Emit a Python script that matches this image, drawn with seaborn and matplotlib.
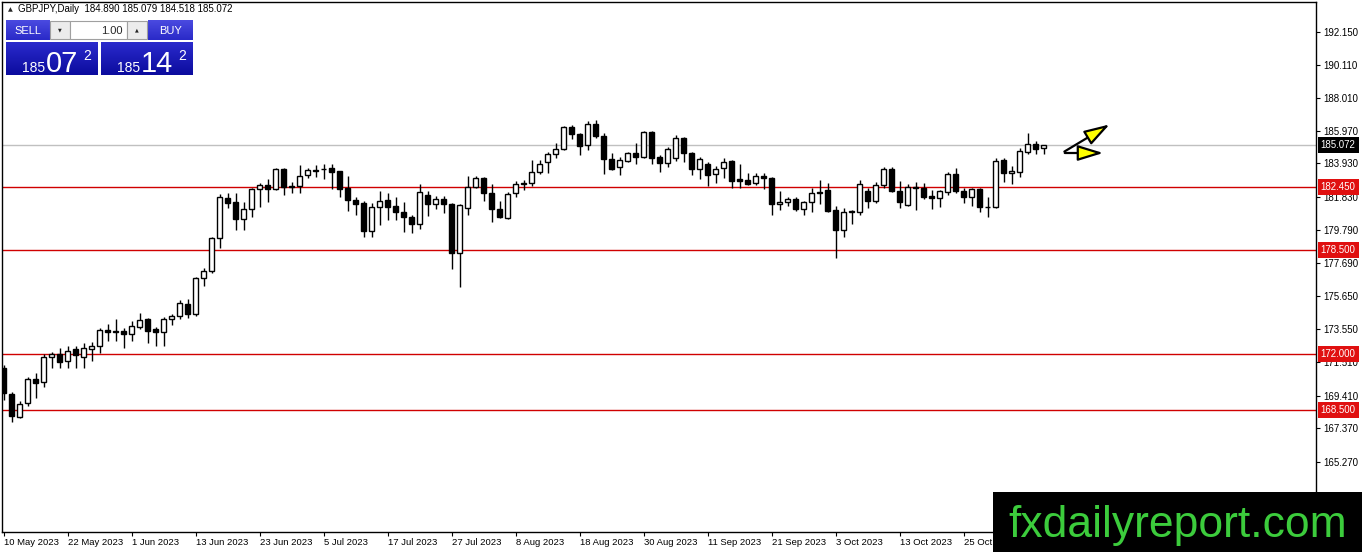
import numpy as np
import pandas as pd
import matplotlib
matplotlib.use("Agg")
import matplotlib.pyplot as plt
import seaborn as sns
from matplotlib.patches import Rectangle, FancyArrowPatch
from matplotlib.transforms import blended_transform_factory

# ---------------- data ----------------
symbol = "GBPJPY,Daily"
opens = [171.14, 169.51, 168.07, 168.94, 170.45, 170.26, 171.82, 172.01, 171.57, 172.32,
         171.82, 172.32, 172.51, 173.51, 173.39, 173.45, 173.26, 173.70, 174.20, 173.57,
         173.39, 174.20, 174.39, 175.14, 174.51, 176.76, 177.20, 179.27, 181.77, 181.52,
         180.46, 181.08, 182.33, 182.58, 182.33, 183.58, 182.52, 182.52, 183.21, 183.46,
         183.58, 183.65, 183.46, 182.40, 181.64, 181.46, 179.70, 181.20, 181.64, 181.27,
         180.89, 180.58, 180.14, 181.96, 181.39, 181.71, 181.39, 178.33, 181.14, 182.46,
         183.02, 182.08, 181.08, 180.52, 182.08, 182.65, 182.71, 183.40, 184.02, 184.52,
         184.83, 186.21, 185.77, 185.08, 186.40, 185.65, 184.21, 183.71, 184.08, 184.58,
         184.33, 185.90, 184.33, 183.96, 184.27, 185.52, 184.58, 183.58, 183.90, 183.27,
         183.65, 184.08, 182.96, 182.90, 182.71, 183.15, 183.02, 181.39, 181.52, 181.71,
         181.08, 181.52, 182.14, 182.27, 181.02, 179.77, 180.89, 180.89, 182.21, 181.58,
         182.58, 183.58, 182.21, 181.33, 182.46, 182.40, 181.89, 181.77, 182.14, 183.27,
         182.21, 181.83, 182.33, 181.20, 181.20, 184.15, 183.33, 183.40, 184.65, 185.15,
         184.890]
highs = [171.32, 169.63, 169.07, 170.57, 170.82, 172.01, 172.13, 172.39, 172.51, 172.51,
         172.70, 172.76, 173.64, 173.89, 174.20, 173.64, 174.07, 174.57, 174.26, 173.70,
         174.32, 174.51, 175.39, 175.45, 176.83, 177.39, 179.33, 182.02, 182.08, 182.08,
         181.52, 182.40, 182.71, 182.96, 183.65, 183.65, 182.77, 183.83, 183.65, 183.83,
         183.90, 183.90, 183.46, 183.15, 181.83, 181.58, 181.46, 182.21, 182.08, 181.83,
         181.52, 180.71, 182.64, 182.21, 181.89, 181.89, 181.46, 181.39, 183.15, 183.15,
         183.08, 182.64, 181.58, 182.14, 182.83, 182.90, 184.15, 184.15, 184.65, 185.21,
         186.27, 186.34, 185.84, 186.59, 186.65, 185.84, 184.58, 184.33, 184.65, 185.21,
         185.96, 185.96, 184.46, 184.96, 185.71, 185.58, 184.65, 184.33, 184.02, 183.77,
         184.27, 184.15, 183.90, 183.33, 183.33, 183.33, 183.08, 182.21, 181.83, 181.83,
         181.58, 182.40, 182.90, 182.71, 181.27, 181.14, 181.02, 182.90, 182.40, 182.77,
         183.71, 183.71, 182.83, 182.64, 182.77, 182.71, 182.27, 182.27, 183.40, 183.65,
         182.40, 182.40, 182.40, 181.83, 184.27, 184.27, 183.77, 184.90, 185.84, 185.34,
         185.079]
lows = [169.13, 167.75, 168.01, 168.76, 169.26, 169.95, 171.14, 171.14, 171.14, 171.14,
        171.14, 171.57, 172.07, 172.82, 172.82, 172.39, 172.82, 173.57, 172.70, 172.51,
        172.51, 173.82, 174.20, 174.26, 174.39, 176.26, 177.08, 178.64, 181.14, 179.77,
        179.77, 180.58, 181.20, 181.52, 182.27, 181.96, 182.08, 182.08, 183.02, 183.08,
        182.96, 182.33, 181.83, 180.96, 180.71, 179.33, 179.33, 180.08, 180.39, 180.39,
        179.64, 179.58, 179.83, 180.64, 181.08, 180.83, 177.33, 176.20, 180.71, 182.40,
        181.58, 180.27, 180.52, 180.46, 181.83, 182.27, 182.52, 183.27, 183.33, 184.27,
        184.77, 185.46, 184.46, 184.77, 185.52, 183.27, 183.52, 183.21, 184.02, 183.90,
        184.27, 183.90, 183.40, 183.71, 184.08, 184.02, 183.21, 182.96, 182.52, 182.71,
        183.02, 182.40, 182.40, 182.58, 182.58, 182.33, 180.71, 181.02, 181.27, 180.96,
        180.71, 180.89, 181.39, 180.89, 178.02, 179.33, 180.14, 180.71, 181.14, 181.46,
        182.40, 182.14, 181.14, 181.27, 181.02, 181.71, 181.08, 181.20, 181.96, 182.08,
        181.46, 181.27, 180.89, 180.58, 181.14, 182.77, 182.65, 183.08, 184.52, 184.52,
        184.518]
closes = [169.57, 168.13, 168.88, 170.45, 170.19, 171.82, 172.01, 171.51, 172.20, 171.95,
          172.39, 172.51, 173.51, 173.39, 173.45, 173.26, 173.76, 174.14, 173.45, 173.39,
          174.20, 174.39, 175.20, 174.51, 176.76, 177.20, 179.27, 181.83, 181.46, 180.46,
          181.08, 182.33, 182.58, 182.33, 183.58, 182.46, 182.46, 183.15, 183.52, 183.52,
          183.60, 183.40, 182.33, 181.64, 181.39, 179.70, 181.20, 181.58, 181.20, 180.89,
          180.58, 180.14, 182.14, 181.39, 181.71, 181.39, 178.33, 181.33, 182.46, 183.02,
          182.08, 181.08, 180.58, 182.02, 182.65, 182.71, 183.40, 183.90, 184.52, 184.83,
          186.21, 185.77, 185.02, 186.40, 185.65, 184.21, 183.58, 184.15, 184.58, 184.33,
          185.90, 184.27, 183.96, 184.83, 185.52, 184.58, 183.58, 184.21, 183.21, 183.58,
          184.02, 182.83, 182.83, 182.65, 183.15, 183.02, 181.39, 181.52, 181.71, 181.08,
          181.52, 182.08, 182.08, 180.96, 179.77, 180.89, 180.96, 182.64, 181.58, 182.58,
          183.58, 182.21, 181.52, 182.46, 182.40, 181.83, 181.77, 182.21, 183.27, 182.21,
          181.83, 182.33, 181.20, 181.22, 184.08, 183.33, 183.46, 184.71, 185.15, 184.83,
          185.072]
date_tick_bars = [0, 8, 16, 24, 32, 40, 48, 56, 64, 72, 80, 88, 96, 104, 112, 120]
date_tick_labels = ["10 May 2023", "22 May 2023", "1 Jun 2023", "13 Jun 2023", "23 Jun 2023",
                    "5 Jul 2023", "17 Jul 2023", "27 Jul 2023", "8 Aug 2023", "18 Aug 2023",
                    "30 Aug 2023", "11 Sep 2023", "21 Sep 2023", "3 Oct 2023", "13 Oct 2023",
                    "25 Oct"]
price_ticks = [192.150, 190.110, 188.010, 185.970, 183.930, 181.830, 179.790, 177.690,
               175.650, 173.550, 171.510, 169.410, 167.370, 165.270]
levels = [182.450, 178.500, 172.000, 168.500]
bid_price = 185.072
sell_quote = ("185", "07", "2")
buy_quote = ("185", "14", "2")
lot_size = "1.00"
watermark = "fxdailyreport.com"

# ---------------- style ----------------
sns.set_style("white")
plt.rcParams['font.family'] = ['Liberation Sans', 'DejaVu Sans']

W, H = 1362, 552
fig = plt.figure(figsize=(W / 100, H / 100), dpi=100)
fig.patch.set_facecolor("white")

ax = fig.add_axes([2 / W, (H - 532) / H, (1316 - 2) / W, (532 - 2) / H])
ax.set_facecolor("white")

df = pd.DataFrame({"open": opens, "high": highs, "low": lows, "close": closes})
df["bar"] = np.arange(len(df))
up = df["close"] >= df["open"]

# wicks
ax.vlines(df["bar"], df["low"], df["high"], color="black", linewidth=1.0, zorder=3)
# bodies
body_bottom = np.minimum(df["open"], df["close"])
body_height = (df["close"] - df["open"]).abs()
ax.bar(df["bar"][up], body_height[up], bottom=body_bottom[up], width=0.62,
       facecolor="white", edgecolor="black", linewidth=1.0, zorder=4)
ax.bar(df["bar"][~up], body_height[~up], bottom=body_bottom[~up], width=0.62,
       facecolor="black", edgecolor="black", linewidth=1.0, zorder=4)

# levels
for lv in levels:
    ax.axhline(lv, color="#d00000", linewidth=1.0, zorder=2)
ax.axhline(bid_price, color="#c0c0c0", linewidth=1.0, zorder=1)

ax.set_xlim(-0.19, 164.06)
ax.set_ylim(160.87, 194.03)

ax.yaxis.tick_right()
ax.set_yticks(price_ticks)
ax.set_yticklabels([f"{t:.3f}" for t in price_ticks])
ax.set_xticks(date_tick_bars)
ax.set_xticklabels(date_tick_labels, ha="left")
ax.tick_params(axis="y", which="both", direction="out", length=3, width=0.8,
               pad=2, labelsize=7, colors="black", right=True, left=False)
ax.tick_params(axis="x", which="both", direction="out", length=3, width=0.8,
               pad=1, labelsize=6.8, colors="black", bottom=True)
for s in ax.spines.values():
    s.set_color("black")
    s.set_linewidth(1.0)
    s.set_visible(True)
ax.grid(False)

# right-hand price boxes
tr = blended_transform_factory(ax.transAxes, ax.transData)
for lv in levels:
    ax.text(1.0036, lv, f"{lv:.3f}", transform=tr, ha="left", va="center",
            fontsize=7, color="white", zorder=10, clip_on=False,
            bbox=dict(boxstyle="square,pad=0.3", facecolor="#e01010", edgecolor="none"))
ax.text(1.0036, bid_price, f"{bid_price:.3f}", transform=tr, ha="left", va="center",
        fontsize=7, color="white", zorder=10, clip_on=False,
        bbox=dict(boxstyle="square,pad=0.3", facecolor="black", edgecolor="none"))

# ---------------- overlay (pixel coordinates, top-left origin) ----------------
ov = fig.add_axes([0, 0, 1, 1], zorder=20)
ov.set_xlim(0, W)
ov.set_ylim(H, 0)
ov.axis("off")
ov.patch.set_alpha(0)

# header
ov.text(8, 9.5, "▲", fontsize=4.5, ha="left", va="center", family=["DejaVu Sans"])
ov.text(18, 9.5, f"{symbol}  {opens[-1]:.3f} {highs[-1]:.3f} {lows[-1]:.3f} {closes[-1]:.3f}",
        fontsize=7, ha="left", va="center", color="black")

def grad_box(x, y, w, h, top, bottom):
    c1 = np.array(matplotlib.colors.to_rgb(top))
    c2 = np.array(matplotlib.colors.to_rgb(bottom))
    t = np.linspace(0, 1, 32)[:, None]
    img = (c1 * (1 - t) + c2 * t)[:, None, :]
    ov.imshow(img, extent=(x, x + w, y + h, y), aspect="auto", zorder=21,
              interpolation="bilinear")

# SELL / BUY buttons
grad_box(6, 20, 44, 20, "#4a4ae0", "#2a2ac8")
ov.text(28, 30.5, "SELL", color="white", fontsize=8, ha="center", va="center", zorder=25)
grad_box(148, 20, 45, 20, "#4a4ae0", "#2a2ac8")
ov.text(170.5, 30.5, "BUY", color="white", fontsize=8, ha="center", va="center", zorder=25)
ov.add_patch(Rectangle((50, 21), 20, 18, facecolor="#ececec", edgecolor="#a0a0a0", lw=0.8, zorder=22))
ov.text(60, 30, "▼", fontsize=3.5, ha="center", va="center", family=["DejaVu Sans"], zorder=25)
ov.add_patch(Rectangle((70, 21), 57, 18, facecolor="white", edgecolor="#a0a0a0", lw=0.8, zorder=22))
ov.text(123, 30.5, lot_size, fontsize=8, ha="right", va="center", zorder=25)
ov.add_patch(Rectangle((127, 21), 20, 18, facecolor="#ececec", edgecolor="#a0a0a0", lw=0.8, zorder=22))
ov.text(137, 30, "▲", fontsize=3.5, ha="center", va="center", family=["DejaVu Sans"], zorder=25)

# big quote boxes
grad_box(6, 42, 92, 33, "#2a2acc", "#0c0c9e")
grad_box(101, 42, 92, 33, "#2a2acc", "#0c0c9e")
for x0, (a, b, c) in [(6, sell_quote), (101, buy_quote)]:
    ov.text(x0 + 16, 72, a, color="white", fontsize=10, ha="left", va="baseline", zorder=25)
    ov.text(x0 + 40, 72, b, color="white", fontsize=21, ha="left", va="baseline", zorder=25)
    ov.text(x0 + 77, 60, c, color="white", fontsize=10, ha="left", va="baseline", zorder=25)

# arrows
for tip in [(1112, 123), (1106, 153)]:
    arr = FancyArrowPatch((1062, 153), tip, arrowstyle="-|>,head_length=2.6,head_width=0.8",
                          mutation_scale=6, facecolor="#ffff00", edgecolor="black",
                          linewidth=1.6, zorder=23)
    ov.add_patch(arr)

# watermark
ov.add_patch(Rectangle((993, 492), W - 993, H - 492, facecolor="black", edgecolor="none", zorder=24))
ov.text(1178, 537, watermark, color="#3ccc3c", fontsize=32, ha="center", va="baseline", zorder=25)

fig.savefig("out.png", dpi=100, facecolor="white")
